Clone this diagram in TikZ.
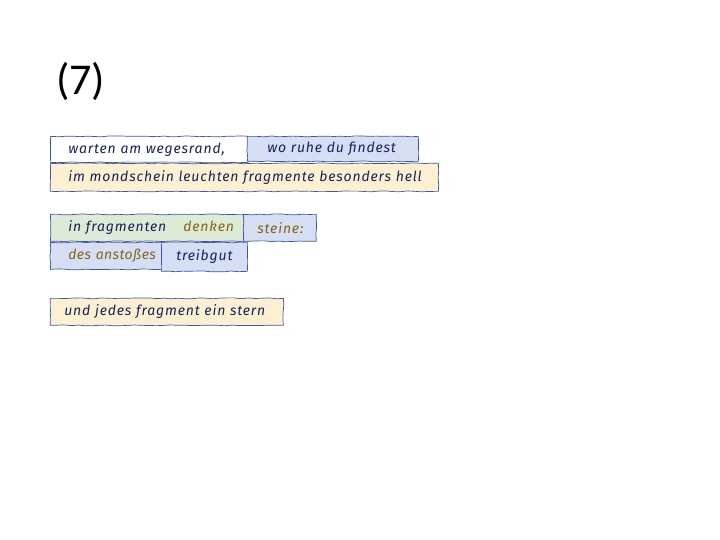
\documentclass[tikz,border=0pt]{standalone}
\usepackage{fontspec}
\setmainfont{Carlito}
\newfontfamily\hand[LetterSpace=6]{Fira Sans Italic}
\usetikzlibrary{decorations.pathmorphing}
\definecolor{ink}{HTML}{16245A}
\definecolor{edge}{HTML}{3F56A3}
\definecolor{bluefill}{HTML}{D6DEF3}
\definecolor{yellowfill}{HTML}{FDF0D2}
\definecolor{greenfill}{HTML}{DDEBD6}
\definecolor{brownink}{HTML}{85651A}
\tikzset{
  seg/.style={draw=edge, line width=0.7pt, anchor=north west, inner ysep=0pt,
    align=left, font=\hand\fontsize{14}{16}\selectfont, text=ink,
    decorate, decoration={random steps, segment length=7pt, amplitude=0.5pt}},
}
% name, x1, y1, x2, y2, fill, pad, text
\newcommand\segbox[8]{%
  \pgfmathsetmacro\W{#4-#2}\pgfmathsetmacro\H{#5-#3}\pgfmathsetmacro\T{#4-#2-2*#7}%
  \node[seg, fill=#6, minimum width=\W pt, minimum height=\H pt, inner xsep=#7pt,
        text width=\T pt] (#1) at (#2pt,-#3pt) {\mbox{#8}};}
\begin{document}
\begin{tikzpicture}
\useasboundingbox (0,0) rectangle (720pt,-540pt);
\node[anchor=west, font=\fontsize{44}{50}\selectfont, inner sep=0pt] (num) at (56pt,-81pt) {(7)};
\segbox{b1}{50}{136}{248}{162}{white}{18}{warten am wegesrand,}
\segbox{b2}{247}{136}{418}{161}{bluefill}{20}{wo ruhe du findest}
\segbox{b3}{50}{163}{438}{191}{yellowfill}{18}{im mondschein leuchten fragmente besonders hell}
\segbox{b4}{50}{214}{244}{241}{greenfill}{18}{in fragmenten\hspace{17pt}\textcolor{brownink}{denken}}
\segbox{b5}{243}{214}{316}{241}{bluefill}{14}{\textcolor{brownink}{steine:}}
\segbox{b6}{50}{242}{163}{269}{bluefill}{18}{\addfontfeature{LetterSpace=3}\textcolor{brownink}{des anstoßes}}
\segbox{b7}{161}{242}{247}{271}{bluefill}{15}{treibgut}
\segbox{b8}{50}{298}{283}{325}{yellowfill}{14}{und jedes fragment ein stern}
\end{tikzpicture}
\end{document}
